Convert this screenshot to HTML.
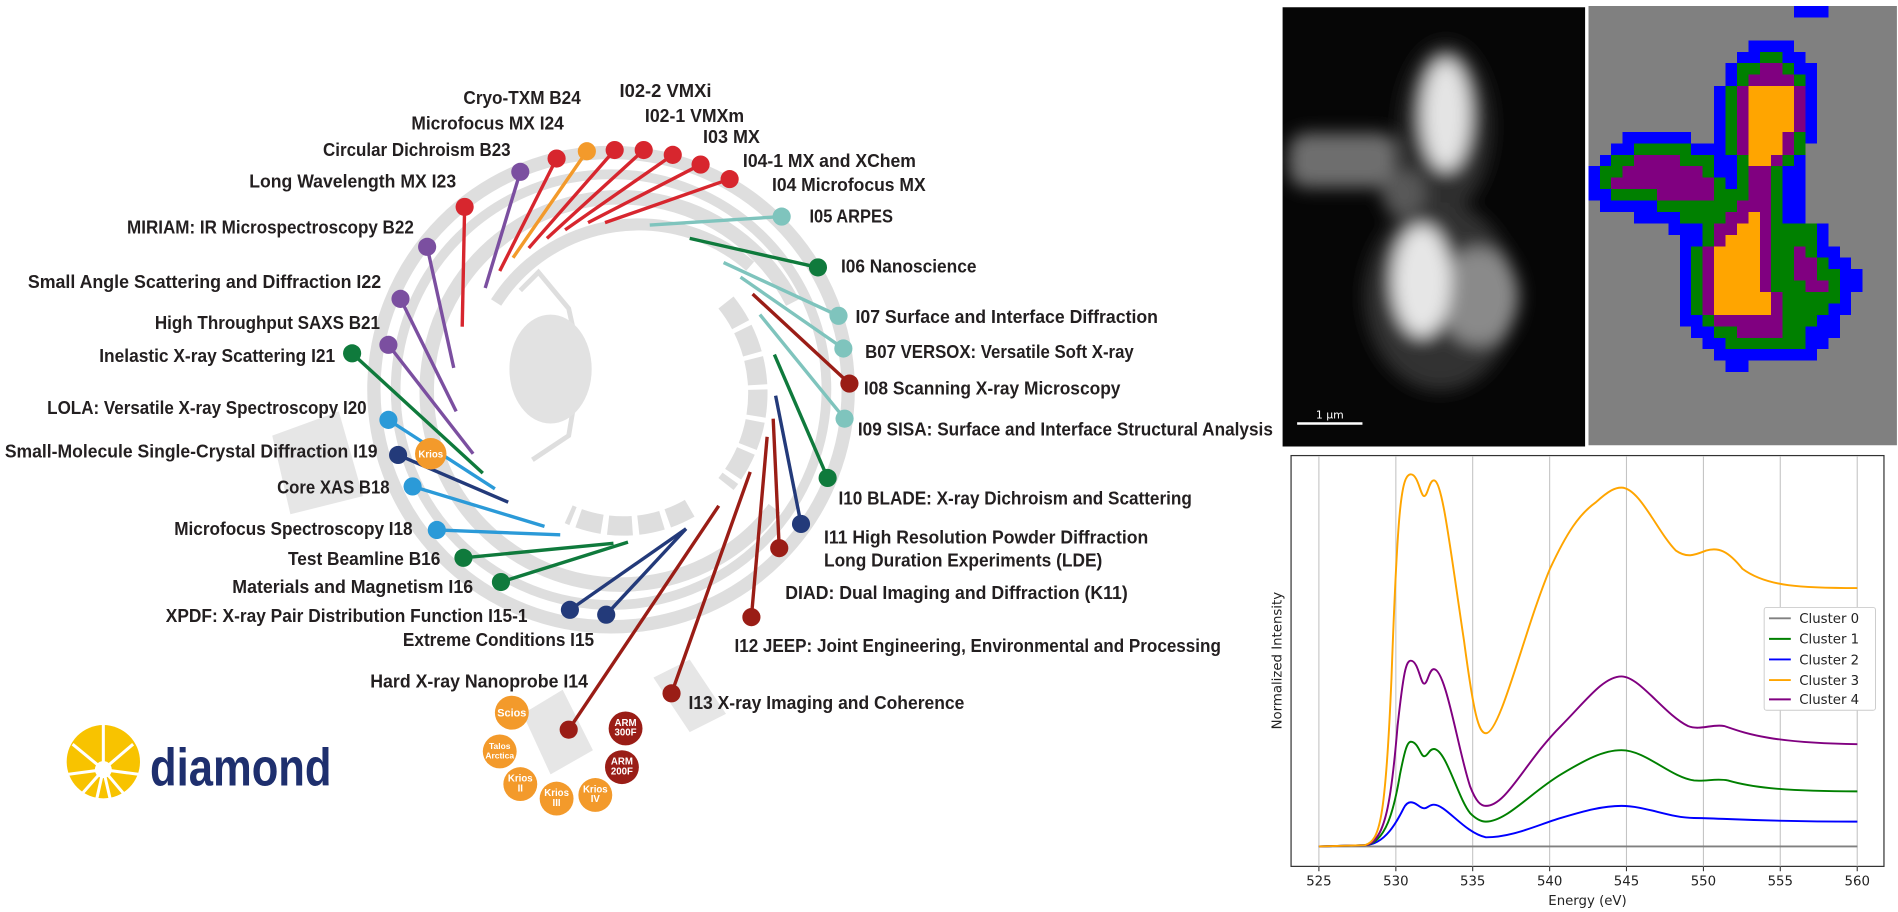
<!DOCTYPE html>
<html><head><meta charset="utf-8"><style>html,body{margin:0;padding:0;background:#fff;}svg{display:block}
.l{font-family:"Liberation Sans",Arial,sans-serif;font-weight:bold;font-size:15px;fill:#231f20}
.t{font-family:"DejaVu Sans","Liberation Sans",sans-serif;font-size:11px;fill:#222}
.c{font-family:"Liberation Sans",sans-serif;font-weight:bold;fill:#fff;text-anchor:middle}
</style></head><body>
<svg width="1898" height="912" viewBox="0 0 1568.6 753.7" preserveAspectRatio="none" xmlns="http://www.w3.org/2000/svg">
<defs><filter id="bl" x="-50%" y="-50%" width="200%" height="200%"><feGaussianBlur stdDeviation="7"/></filter>
<clipPath id="gc"><rect x="1060" y="6" width="250" height="363"/></clipPath></defs>
<!-- synchrotron background -->
<g fill="none" stroke="#dedede">
<circle cx="505" cy="322" r="196" stroke-width="11"/>
<circle cx="505" cy="322" r="178" stroke-width="8"/>
<path d="M 640 420 A 160 160 0 1 1 655 250" stroke-width="12"/>
<path d="M 410 250 A 140 140 0 0 1 620 220" stroke-width="10"/>
<path d="M 600 250 A 120 120 0 0 1 600 400" stroke-width="16" stroke-dasharray="22 4"/>
<path d="M 570 420 A 110 110 0 0 1 470 425" stroke-width="16" stroke-dasharray="20 5"/>
<path d="M 430 240 L 445 225 L 470 255 L 480 300 L 470 360 L 440 380" stroke-width="4"/>
</g>
<ellipse cx="455" cy="305" rx="34" ry="45" fill="#e2e2e2"/>
<path d="M225,360 L280,340 L300,410 L240,425 Z" fill="#e6e6e6"/>
<path d="M432,590 L465,570 L490,620 L455,640 Z" fill="#e6e6e6"/>
<path d="M540,560 L570,545 L600,590 L570,605 Z" fill="#e6e6e6"/>
<!-- pins -->
<g stroke-width="2.8" stroke-linecap="butt">
<line x1="460" y1="131" x2="413" y2="224" stroke="#d7262e"/>
<line x1="485" y1="125" x2="424" y2="213" stroke="#f39a2b"/>
<line x1="508" y1="124" x2="437" y2="205" stroke="#d7262e"/>
<line x1="532" y1="124" x2="452" y2="197" stroke="#d7262e"/>
<line x1="556" y1="128" x2="467" y2="190" stroke="#d7262e"/>
<line x1="579" y1="136" x2="486" y2="184" stroke="#d7262e"/>
<line x1="603" y1="148" x2="500" y2="184" stroke="#d7262e"/>
<line x1="430" y1="142" x2="401" y2="238" stroke="#7b4fa0"/>
<line x1="384" y1="171" x2="382" y2="270" stroke="#d7262e"/>
<line x1="353" y1="204" x2="375" y2="304" stroke="#7b4fa0"/>
<line x1="331" y1="247" x2="377" y2="340" stroke="#7b4fa0"/>
<line x1="321" y1="285" x2="391" y2="375" stroke="#7b4fa0"/>
<line x1="291" y1="292" x2="399" y2="391" stroke="#0f7a3c"/>
<line x1="321" y1="347" x2="409" y2="404" stroke="#2b9ad8"/>
<line x1="329" y1="376" x2="420" y2="415" stroke="#233a7a"/>
<line x1="341" y1="402" x2="450" y2="435" stroke="#2b9ad8"/>
<line x1="361" y1="438" x2="463" y2="442" stroke="#2b9ad8"/>
<line x1="383" y1="461" x2="507" y2="449" stroke="#0f7a3c"/>
<line x1="414" y1="481" x2="519" y2="448" stroke="#0f7a3c"/>
<line x1="471" y1="504" x2="567" y2="437" stroke="#233a7a"/>
<line x1="501" y1="508" x2="567" y2="437" stroke="#233a7a"/>
<line x1="470" y1="603" x2="594" y2="418" stroke="#9a1d16"/>
<line x1="555" y1="573" x2="620" y2="390" stroke="#9a1d16"/>
<line x1="621" y1="510" x2="634" y2="361" stroke="#9a1d16"/>
<line x1="644" y1="453" x2="639" y2="346" stroke="#9a1d16"/>
<line x1="662" y1="433" x2="641" y2="327" stroke="#233a7a"/>
<line x1="684" y1="395" x2="640" y2="293" stroke="#0f7a3c"/>
<line x1="698" y1="346" x2="628" y2="260" stroke="#7fc4bd"/>
<line x1="702" y1="317" x2="622" y2="243" stroke="#9a1d16"/>
<line x1="697" y1="288" x2="612" y2="229" stroke="#7fc4bd"/>
<line x1="693" y1="261" x2="598" y2="217" stroke="#7fc4bd"/>
<line x1="676" y1="221" x2="570" y2="197" stroke="#0f7a3c"/>
<line x1="646" y1="179" x2="537" y2="186" stroke="#7fc4bd"/>
</g>
<g>
<circle cx="460" cy="131" r="7.5" fill="#d7262e"/><circle cx="485" cy="125" r="7.5" fill="#f39a2b"/>
<circle cx="508" cy="124" r="7.5" fill="#d7262e"/><circle cx="532" cy="124" r="7.5" fill="#d7262e"/>
<circle cx="556" cy="128" r="7.5" fill="#d7262e"/><circle cx="579" cy="136" r="7.5" fill="#d7262e"/>
<circle cx="603" cy="148" r="7.5" fill="#d7262e"/><circle cx="430" cy="142" r="7.5" fill="#7b4fa0"/>
<circle cx="384" cy="171" r="7.5" fill="#d7262e"/><circle cx="353" cy="204" r="7.5" fill="#7b4fa0"/>
<circle cx="331" cy="247" r="7.5" fill="#7b4fa0"/><circle cx="321" cy="285" r="7.5" fill="#7b4fa0"/>
<circle cx="291" cy="292" r="7.5" fill="#0f7a3c"/><circle cx="321" cy="347" r="7.5" fill="#2b9ad8"/>
<circle cx="329" cy="376" r="7.5" fill="#233a7a"/><circle cx="341" cy="402" r="7.5" fill="#2b9ad8"/>
<circle cx="361" cy="438" r="7.5" fill="#2b9ad8"/><circle cx="383" cy="461" r="7.5" fill="#0f7a3c"/>
<circle cx="414" cy="481" r="7.5" fill="#0f7a3c"/><circle cx="471" cy="504" r="7.5" fill="#233a7a"/>
<circle cx="501" cy="508" r="7.5" fill="#233a7a"/><circle cx="470" cy="603" r="7.5" fill="#9a1d16"/>
<circle cx="555" cy="573" r="7.5" fill="#9a1d16"/><circle cx="621" cy="510" r="7.5" fill="#9a1d16"/>
<circle cx="644" cy="453" r="7.5" fill="#9a1d16"/><circle cx="662" cy="433" r="7.5" fill="#233a7a"/>
<circle cx="684" cy="395" r="7.5" fill="#0f7a3c"/><circle cx="698" cy="346" r="7.5" fill="#7fc4bd"/>
<circle cx="702" cy="317" r="7.5" fill="#9a1d16"/><circle cx="697" cy="288" r="7.5" fill="#7fc4bd"/>
<circle cx="693" cy="261" r="7.5" fill="#7fc4bd"/><circle cx="676" cy="221" r="7.5" fill="#0f7a3c"/>
<circle cx="646" cy="179" r="7.5" fill="#7fc4bd"/>
</g>
<!-- cryo-EM circles -->
<g>
<circle cx="356" cy="375" r="13" fill="#f39a2b"/><text class="c" x="356" y="378" font-size="8">Krios</text>
<circle cx="423" cy="589" r="14" fill="#f39a2b"/><text class="c" x="423" y="592" font-size="9">Scios</text>
<circle cx="413" cy="621" r="14" fill="#f39a2b"/><text class="c" x="413" y="619" font-size="7">Talos</text><text class="c" x="413" y="627" font-size="7">Arctica</text>
<circle cx="430" cy="648" r="14" fill="#f39a2b"/><text class="c" x="430" y="646" font-size="8">Krios</text><text class="c" x="430" y="654" font-size="8">II</text>
<circle cx="460" cy="660" r="14" fill="#f39a2b"/><text class="c" x="460" y="658" font-size="8">Krios</text><text class="c" x="460" y="666" font-size="8">III</text>
<circle cx="492" cy="657" r="14" fill="#f39a2b"/><text class="c" x="492" y="655" font-size="8">Krios</text><text class="c" x="492" y="663" font-size="8">IV</text>
<circle cx="517" cy="602" r="14" fill="#9a1d16"/><text class="c" x="517" y="600" font-size="8">ARM</text><text class="c" x="517" y="608" font-size="8">300F</text>
<circle cx="514" cy="634" r="14" fill="#9a1d16"/><text class="c" x="514" y="632" font-size="8">ARM</text><text class="c" x="514" y="640" font-size="8">200F</text>
</g>
<!-- left labels -->
<g class="l" text-anchor="end">
<text x="480" y="86" textLength="97" lengthAdjust="spacingAndGlyphs">Cryo-TXM B24</text>
<text x="466" y="107" textLength="126" lengthAdjust="spacingAndGlyphs">Microfocus MX I24</text>
<text x="422" y="129" textLength="155" lengthAdjust="spacingAndGlyphs">Circular Dichroism B23</text>
<text x="377" y="155" textLength="171" lengthAdjust="spacingAndGlyphs">Long Wavelength MX I23</text>
<text x="342" y="193" textLength="237" lengthAdjust="spacingAndGlyphs">MIRIAM: IR Microspectroscopy B22</text>
<text x="315" y="238" textLength="292" lengthAdjust="spacingAndGlyphs">Small Angle Scattering and  Diffraction I22</text>
<text x="314" y="272" textLength="186" lengthAdjust="spacingAndGlyphs">High Throughput SAXS B21</text>
<text x="277" y="299" textLength="195" lengthAdjust="spacingAndGlyphs">Inelastic X-ray Scattering I21</text>
<text x="303" y="342" textLength="264" lengthAdjust="spacingAndGlyphs">LOLA: Versatile X-ray Spectroscopy I20</text>
<text x="312" y="378" textLength="308" lengthAdjust="spacingAndGlyphs">Small-Molecule Single-Crystal Diffraction I19</text>
<text x="322" y="408" textLength="93" lengthAdjust="spacingAndGlyphs">Core XAS B18</text>
<text x="341" y="442" textLength="197" lengthAdjust="spacingAndGlyphs">Microfocus Spectroscopy I18</text>
<text x="364" y="467" textLength="126" lengthAdjust="spacingAndGlyphs">Test Beamline B16</text>
<text x="391" y="490" textLength="199" lengthAdjust="spacingAndGlyphs">Materials and Magnetism I16</text>
<text x="436" y="514" textLength="299" lengthAdjust="spacingAndGlyphs">XPDF: X-ray Pair Distribution Function I15-1</text>
<text x="491" y="534" textLength="158" lengthAdjust="spacingAndGlyphs">Extreme Conditions I15</text>
<text x="486" y="568" textLength="180" lengthAdjust="spacingAndGlyphs">Hard X-ray Nanoprobe I14</text>
</g>
<g class="l">
<text x="512" y="80" textLength="76" lengthAdjust="spacingAndGlyphs">I02-2 VMXi</text>
<text x="533" y="101" textLength="82" lengthAdjust="spacingAndGlyphs">I02-1 VMXm</text>
<text x="581" y="118" textLength="47" lengthAdjust="spacingAndGlyphs">I03 MX</text>
<text x="614" y="138" textLength="143" lengthAdjust="spacingAndGlyphs">I04-1 MX and XChem</text>
<text x="638" y="158" textLength="127" lengthAdjust="spacingAndGlyphs">I04 Microfocus MX</text>
<text x="669" y="184" textLength="69" lengthAdjust="spacingAndGlyphs">I05 ARPES</text>
<text x="695" y="225" textLength="112" lengthAdjust="spacingAndGlyphs">I06 Nanoscience</text>
<text x="707" y="267" textLength="250" lengthAdjust="spacingAndGlyphs">I07 Surface and Interface Diffraction</text>
<text x="715" y="296" textLength="222" lengthAdjust="spacingAndGlyphs">B07 VERSOX: Versatile Soft X-ray</text>
<text x="714" y="326" textLength="212" lengthAdjust="spacingAndGlyphs">I08 Scanning X-ray Microscopy</text>
<text x="709" y="360" textLength="343" lengthAdjust="spacingAndGlyphs">I09 SISA: Surface and Interface Structural Analysis</text>
<text x="693" y="417" textLength="292" lengthAdjust="spacingAndGlyphs">I10 BLADE: X-ray Dichroism and Scattering</text>
<text x="681" y="449" textLength="268" lengthAdjust="spacingAndGlyphs">I11 High Resolution Powder Diffraction</text>
<text x="681" y="468" textLength="230" lengthAdjust="spacingAndGlyphs">Long Duration Experiments (LDE)</text>
<text x="649" y="495" textLength="283" lengthAdjust="spacingAndGlyphs">DIAD: Dual Imaging and Diffraction (K11)</text>
<text x="607" y="539" textLength="402" lengthAdjust="spacingAndGlyphs">I12 JEEP: Joint Engineering, Environmental and Processing</text>
<text x="569" y="586" textLength="228" lengthAdjust="spacingAndGlyphs">I13 X-ray Imaging and Coherence</text>
</g>
<!-- logo -->
<circle cx="85.4" cy="629.5" r="30.3" fill="#f8c300"/>
<g stroke="#fff" stroke-width="2.5">
<line x1="85.4" y1="636" x2="85.4" y2="598"/><line x1="85.4" y1="636" x2="60" y2="615"/><line x1="85.4" y1="636" x2="110" y2="615"/>
<line x1="85.4" y1="636" x2="56" y2="640"/><line x1="85.4" y1="636" x2="115" y2="640"/>
<line x1="85.4" y1="636" x2="66" y2="658"/><line x1="85.4" y1="636" x2="104" y2="658"/><line x1="85.4" y1="636" x2="80" y2="660"/><line x1="85.4" y1="636" x2="91" y2="660"/>
</g>
<circle cx="85.4" cy="636" r="7" fill="#fff"/>
<text x="124" y="649" font-family="Liberation Sans, sans-serif" font-size="44" font-weight="bold" fill="#1e2f6e" textLength="150" lengthAdjust="spacingAndGlyphs">diamond</text>
<!-- grayscale image -->
<rect x="1060" y="6" width="250" height="363" fill="#060606"/>
<g clip-path="url(#gc)" filter="url(#bl)">
<ellipse cx="1195" cy="105" rx="38" ry="70" fill="#2e2e2e"/>
<ellipse cx="1190" cy="245" rx="62" ry="78" fill="#333"/>
<rect x="1065" y="110" width="90" height="45" rx="15" fill="#6e6e6e"/>
<ellipse cx="1195" cy="95" rx="20" ry="46" fill="#e4e4e4"/>
<ellipse cx="1222" cy="245" rx="33" ry="40" fill="#8a8a8a"/>
<ellipse cx="1175" cy="232" rx="24" ry="46" fill="#e6e6e6"/>
<ellipse cx="1160" cy="160" rx="18" ry="20" fill="#585858"/>
</g>
<line x1="1072" y1="350" x2="1126" y2="350" stroke="#fff" stroke-width="2"/>
<text x="1099" y="346" text-anchor="middle" font-family="DejaVu Sans,sans-serif" font-size="9" fill="#fff">1 µm</text>
<!-- cluster map -->
<svg x="1312.7" y="5" width="255" height="363" viewBox="0 0 27 38.4" preserveAspectRatio="none" shape-rendering="crispEdges">
<rect width="27" height="38.4" fill="#808080"/>
<g fill="#0000ff">
<rect x="18" y="0" width="3" height="1"/><rect x="14" y="3" width="4" height="1"/><rect x="13" y="4" width="6" height="1"/>
<rect x="12" y="5" width="8" height="2"/><rect x="11" y="7" width="9" height="5"/><rect x="3" y="11" width="6" height="1"/>
<rect x="2" y="12" width="9" height="1"/><rect x="11" y="12" width="8" height="1"/><rect x="1" y="13" width="18" height="1"/>
<rect x="0" y="14" width="19" height="3"/><rect x="1" y="17" width="18" height="1"/><rect x="4" y="18" width="15" height="1"/>
<rect x="7" y="19" width="14" height="1"/><rect x="8" y="20" width="13" height="1"/><rect x="8" y="21" width="14" height="1"/>
<rect x="8" y="22" width="15" height="1"/><rect x="8" y="23" width="16" height="2"/><rect x="8" y="25" width="15" height="1"/>
<rect x="8" y="26" width="15" height="1"/><rect x="8" y="27" width="14" height="1"/><rect x="9" y="28" width="13" height="1"/>
<rect x="10" y="29" width="11" height="1"/><rect x="11" y="30" width="9" height="1"/><rect x="12" y="31" width="2" height="1"/>
</g>
<g fill="#008000">
<rect x="15" y="4" width="2" height="1"/><rect x="13" y="5" width="5" height="1"/><rect x="13" y="6" width="6" height="1"/>
<rect x="12" y="7" width="7" height="6"/><rect x="4" y="12" width="5" height="1"/><rect x="2" y="13" width="9" height="1"/>
<rect x="13" y="13" width="5" height="1"/><rect x="1" y="14" width="10" height="1"/><rect x="13" y="14" width="4" height="1"/>
<rect x="1" y="15" width="1" height="1"/><rect x="11" y="15" width="1" height="1"/><rect x="13" y="15" width="4" height="1"/>
<rect x="2" y="16" width="15" height="1"/><rect x="6" y="17" width="11" height="1"/><rect x="8" y="18" width="9" height="1"/>
<rect x="10" y="19" width="10" height="1"/><rect x="10" y="20" width="10" height="1"/><rect x="9" y="21" width="11" height="1"/>
<rect x="9" y="22" width="12" height="1"/><rect x="9" y="23" width="13" height="2"/><rect x="9" y="25" width="13" height="1"/>
<rect x="9" y="26" width="12" height="1"/><rect x="10" y="27" width="10" height="1"/><rect x="11" y="28" width="8" height="1"/>
<rect x="12" y="29" width="7" height="1"/>
</g>
<g fill="#800080">
<rect x="15" y="5" width="2" height="1"/><rect x="14" y="6" width="4" height="1"/><rect x="13" y="7" width="6" height="4"/>
<rect x="13" y="11" width="5" height="2"/><rect x="4" y="13" width="4" height="1"/><rect x="16" y="13" width="1" height="1"/>
<rect x="3" y="14" width="7" height="1"/><rect x="14" y="14" width="2" height="2"/><rect x="2" y="15" width="9" height="1"/>
<rect x="6" y="16" width="5" height="1"/><rect x="14" y="16" width="2" height="1"/><rect x="13" y="17" width="3" height="1"/>
<rect x="12" y="18" width="4" height="1"/><rect x="11" y="19" width="5" height="1"/><rect x="11" y="20" width="5" height="1"/>
<rect x="10" y="21" width="6" height="5"/><rect x="18" y="21" width="1" height="1"/><rect x="18" y="22" width="2" height="2"/>
<rect x="19" y="24" width="2" height="1"/><rect x="10" y="25" width="7" height="2"/><rect x="11" y="27" width="6" height="1"/>
<rect x="13" y="28" width="4" height="1"/>
</g>
<g fill="#ffa500">
<rect x="14" y="7" width="4" height="4"/><rect x="14" y="11" width="3" height="1"/><rect x="14" y="12" width="3" height="1"/>
<rect x="14" y="13" width="2" height="1"/><rect x="14" y="18" width="1" height="1"/><rect x="13" y="19" width="2" height="1"/>
<rect x="12" y="20" width="3" height="1"/><rect x="11" y="21" width="4" height="4"/><rect x="11" y="25" width="5" height="2"/>
</g>
</svg>
<!-- chart -->
<rect x="1067" y="376.5" width="490" height="339.5" fill="#fff" stroke="#333" stroke-width="1"/>
<g stroke="#c4c4c4" stroke-width="0.9">
<line x1="1090" y1="377" x2="1090" y2="716"/><line x1="1153.6" y1="377" x2="1153.6" y2="716"/><line x1="1217.1" y1="377" x2="1217.1" y2="716"/>
<line x1="1280.7" y1="377" x2="1280.7" y2="716"/><line x1="1344.2" y1="377" x2="1344.2" y2="716"/><line x1="1407.8" y1="377" x2="1407.8" y2="716"/>
<line x1="1471.3" y1="377" x2="1471.3" y2="716"/><line x1="1534.9" y1="377" x2="1534.9" y2="716"/>
</g>
<g stroke="#333" stroke-width="0.9">
<line x1="1090" y1="716" x2="1090" y2="720"/><line x1="1153.6" y1="716" x2="1153.6" y2="720"/><line x1="1217.1" y1="716" x2="1217.1" y2="720"/>
<line x1="1280.7" y1="716" x2="1280.7" y2="720"/><line x1="1344.2" y1="716" x2="1344.2" y2="720"/><line x1="1407.8" y1="716" x2="1407.8" y2="720"/>
<line x1="1471.3" y1="716" x2="1471.3" y2="720"/><line x1="1534.9" y1="716" x2="1534.9" y2="720"/>
</g>
<g class="t" text-anchor="middle">
<text x="1090" y="732">525</text><text x="1153.6" y="732">530</text><text x="1217.1" y="732">535</text><text x="1280.7" y="732">540</text>
<text x="1344.2" y="732">545</text><text x="1407.8" y="732">550</text><text x="1471.3" y="732">555</text><text x="1534.9" y="732">560</text>
<text x="1312" y="748">Energy (eV)</text>
<text transform="translate(1059,546) rotate(-90)">Normalized Intensity</text>
</g>
<g fill="none" stroke-width="1.6">
<path d="M1090,699.5 L1535,699.5" stroke="#808080"/>
<path d="M1090,699.5 L1128,698.5 C1145,698 1155,678 1160,668 C1162,664 1164,663 1166,663 C1171,663 1173,668 1177,668 C1180,668 1181,665 1185,665 C1195,665 1210,688 1228,692 C1250,692 1270,682 1290,676 C1310,670 1325,666 1340,666 C1360,666 1380,676 1400,676 C1420,676 1450,679 1535,679" stroke="#0000ff"/>
<path d="M1090,699.5 L1128,698.5 C1145,697 1152,670 1157,640 C1161,620 1163,613 1166,613 C1172,613 1174,625 1177,625 C1180,625 1181,619 1185,619 C1195,619 1205,660 1215,672 C1220,677 1224,679 1228,679 C1245,679 1265,655 1290,640 C1310,628 1325,620 1340,620 C1360,620 1380,642 1400,645 C1410,646 1418,643 1428,645 C1445,650 1470,654 1535,654" stroke="#008000"/>
<path d="M1090,699.5 L1128,698.5 C1145,697 1150,660 1155,600 C1160,555 1162,546 1166,546 C1172,546 1174,565 1177,565 C1180,565 1181,553 1185,553 C1195,553 1205,620 1215,650 C1220,663 1224,666 1228,666 C1245,666 1260,630 1290,600 C1310,580 1325,559 1340,559 C1355,559 1375,590 1395,600 C1405,604 1415,598 1425,600 C1440,605 1460,614 1535,615" stroke="#800080"/>
<path d="M1090,699.5 L1128,698.5 C1140,695 1145,680 1150,560 C1155,420 1158,392 1166,392 C1172,392 1174,410 1177,410 C1180,410 1181,397 1185,397 C1192,397 1198,450 1210,530 C1218,590 1222,606 1228,606 C1240,606 1260,520 1281,470 C1295,440 1305,425 1319,415 C1330,405 1335,403 1340,403 C1355,403 1370,440 1385,455 C1395,462 1402,458 1410,455 C1420,452 1428,455 1440,470 C1460,485 1490,486 1535,486" stroke="#ffa500"/>
</g>
<rect x="1458" y="502" width="92" height="85" rx="2" fill="#fff" stroke="#ccc" stroke-width="0.8"/>
<g stroke-width="1.6">
<line x1="1462" y1="511" x2="1480" y2="511" stroke="#808080"/><line x1="1462" y1="528" x2="1480" y2="528" stroke="#008000"/>
<line x1="1462" y1="545" x2="1480" y2="545" stroke="#0000ff"/><line x1="1462" y1="562" x2="1480" y2="562" stroke="#ffa500"/>
<line x1="1462" y1="578" x2="1480" y2="578" stroke="#800080"/>
</g>
<g class="t">
<text x="1487" y="515">Cluster 0</text><text x="1487" y="532">Cluster 1</text><text x="1487" y="549">Cluster 2</text>
<text x="1487" y="566">Cluster 3</text><text x="1487" y="582">Cluster 4</text>
</g>
</svg>
</body></html>
